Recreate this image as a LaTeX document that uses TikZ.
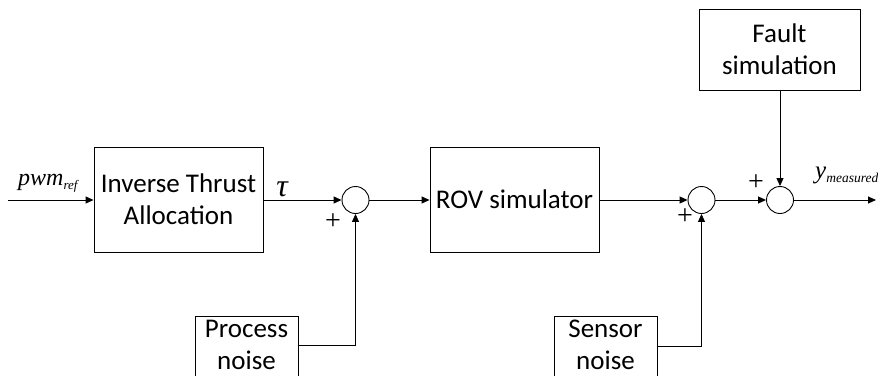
\documentclass[tikz,border=0pt]{standalone}
\usepackage{fontspec}
\setmainfont{Carlito}
\newfontfamily\tms{Liberation Serif}
\usetikzlibrary{arrows.meta}
\begin{document}
\begin{tikzpicture}[x=1pt,y=-1pt,
  block/.style={draw, line width=0.9pt, inner sep=0pt},
  lbl/.style={font=\fontsize{27}{32}\selectfont, align=center, inner sep=0pt},
  sumnode/.style={draw, circle, line width=0.9pt, minimum size=27pt, inner sep=0pt},
  conn/.style={line width=0.9pt},
  arr/.style={conn, -{Triangle[length=8pt,width=7pt]}},
  plus/.style={font=\tms\fontsize{28}{28}\selectfont, inner sep=0pt}]
\useasboundingbox (0,0) rectangle (878,375);
% blocks
\node[block, minimum width=169pt, minimum height=105pt] (ita) at (178.5,199.5) {};
\node[lbl] at (ita.center) {Inverse Thrust\\Allocation};
\node[block, minimum width=169pt, minimum height=105pt] (rov) at (514.5,199.5) {};
\node[lbl] at (rov.center) {ROV simulator};
\node[block, minimum width=161pt, minimum height=81pt] (fault) at (779.5,49.5) {};
\node[lbl] at (fault.center) {Fault\\simulation};
\node[block, minimum width=103pt, minimum height=84pt] (pn) at (246.5,358) {};
\node[lbl] at (246.5,345) {Process\\noise};
\node[block, minimum width=103pt, minimum height=84pt] (sn) at (605.5,358) {};
\node[lbl] at (605.5,345) {Sensor\\noise};
% sums
\node[sumnode] (s1) at (355.5,200) {};
\node[sumnode] (s2) at (701.5,200) {};
\node[sumnode] (s3) at (780,200) {};
% connectors
\coordinate (in) at (8,200);
\coordinate (out) at (876,200);
\draw[arr] (in) -- (ita.west |- in);
\draw[arr] (ita.east |- s1) -- (s1.west);
\draw[arr] (s1.east) -- (rov.west |- s1);
\draw[arr] (rov.east |- s2) -- (s2.west);
\draw[arr] (s2.east) -- (s3.west);
\draw[arr] (s3.east) -- (out);
\draw[arr] (fault.south -| s3) -- (s3.north);
\draw[arr] (pn.east |- 0,345) -| (s1.south);
\draw[arr] (sn.east |- 0,346) -| (s2.south);
% labels
\node[anchor=base west, inner sep=0pt, font=\tms\itshape\fontsize{24}{24}\selectfont] (lp) at (18,185) {pwm\raisebox{-4pt}{\fontsize{13}{13}\selectfont ref}};
\node[anchor=base, inner sep=0pt, font=\fontsize{32}{32}\selectfont] (lt) at (282,196) {\tms\itshape τ};
\node[anchor=base west, inner sep=0pt, font=\tms\itshape\fontsize{25}{25}\selectfont] (ly) at (815,178) {y\raisebox{-4pt}{\fontsize{13.5}{13.5}\selectfont measured}};
\node[plus] (p1) at (333,222) {+};
\node[plus] (p2) at (685,217) {+};
\node[plus] (p3) at (756,183) {+};
\end{tikzpicture}
\end{document}
